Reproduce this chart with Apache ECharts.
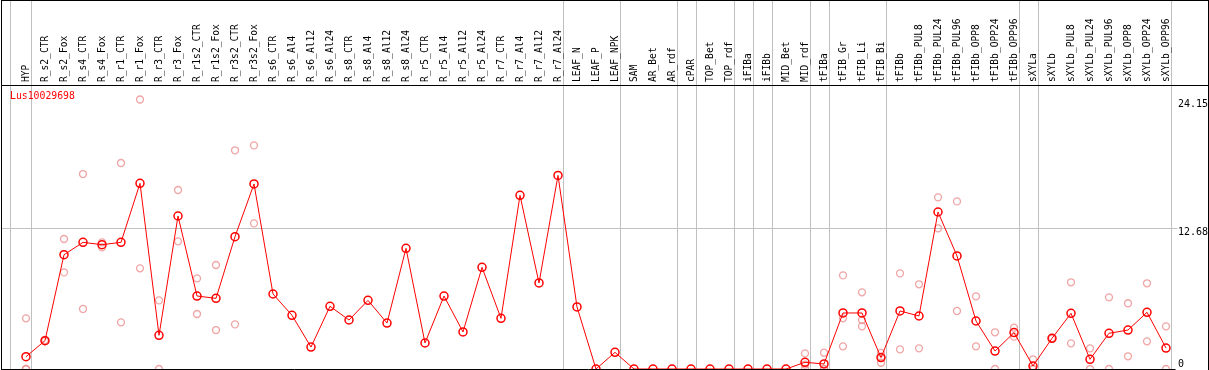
<!DOCTYPE html>
<html><head><meta charset="utf-8">
<script src="https://cdn.jsdelivr.net/npm/echarts@6/dist/echarts.min.js"></script>
<style>html,body{margin:0;padding:0;background:#fff}#c{width:1209px;height:370px}</style>
</head><body><div id="c"></div>
<script>
const chartTitle = 'Lus10029698';
const categories = ['HYP','R_s2_CTR','R_s2_Fox','R_s4_CTR','R_s4_Fox','R_r1_CTR','R_r1_Fox','R_r3_CTR','R_r3_Fox','R_r1s2_CTR','R_r1s2_Fox','R_r3s2_CTR','R_r3s2_Fox','R_s6_CTR','R_s6_Al4','R_s6_Al12','R_s6_Al24','R_s8_CTR','R_s8_Al4','R_s8_Al12','R_s8_Al24','R_r5_CTR','R_r5_Al4','R_r5_Al12','R_r5_Al24','R_r7_CTR','R_r7_Al4','R_r7_Al12','R_r7_Al24','LEAF_N','LEAF_P','LEAF_NPK','SAM','AR_Bet','AR_rdf','cPAR','TOP_Bet','TOP_rdf','iFIBa','iFIBb','MID_Bet','MID_rdf','tFIBa','tFIB_Gr','tFIB_Li','tFIB_Bi','tFIBb','tFIBb_PUL8','tFIBb_PUL24','tFIBb_PUL96','tFIBb_OPP8','tFIBb_OPP24','tFIBb_OPP96','sXYLa','sXYLb','sXYLb_PUL8','sXYLb_PUL24','sXYLb_PUL96','sXYLb_OPP8','sXYLb_OPP24','sXYLb_OPP96'];
const meanValues = [1.10,2.54,10.24,11.35,11.14,11.35,16.64,3.02,13.71,6.54,6.33,11.86,16.58,6.72,4.81,1.97,5.62,4.39,6.15,4.12,10.81,2.33,6.54,3.32,9.11,4.54,15.56,7.71,17.35,5.56,0,1.49,0,0,0,0,0,0,0,0,0,0.60,0.45,5.02,5.02,1.02,5.20,4.75,14.07,10.13,4.30,1.61,3.26,0.27,2.75,4.99,0.87,3.20,3.49,5.08,1.88];
const rep1 = [4.54,2.60,11.65,17.47,11.35,18.46,24.15,6.15,16.04,8.12,9.32,19.60,20.04,
  null,null,null,null,null,null,null,null,null,null,null,null,null,null,null,null,null,null,null,null,null,null,null,null,null,null,null,null,
  1.40,1.46,8.39,6.87,1.45,8.57,7.59,15.38,15.02,6.51,3.29,3.70,0.87,2.75,7.77,1.85,6.42,5.89,7.68,3.82];
const rep2 = [0,2.50,8.66,5.38,10.90,4.18,9.02,0,11.44,4.93,3.49,4.00,13.05,
  null,null,null,null,null,null,null,null,null,null,null,null,null,null,null,null,null,null,null,null,null,null,null,null,null,null,null,null,
  0.40,0,4.54,4.39,1.05,1.76,1.85,12.60,5.20,2.03,0,2.90,0,2.75,2.30,0,0,1.14,2.48,0];
const rep3 = [0,null,null,null,null,null,null,null,null,null,null,null,null,
  null,null,null,null,null,null,null,null,null,null,null,null,null,null,null,null,null,null,null,null,null,null,null,null,null,null,null,null,
  0,0,2.03,3.82,0.56,null,null,null,null,null,null,null,0,null,null,null,null,null,null,null];
const yTickValues = [0, 12.68, 24.15];
const yTickLabels = ['0', '12.68', '24.15'];
const separatorAfter = ['HYP','R_r7_Al24','LEAF_NPK','AR_rdf','cPAR','TOP_rdf','iFIBa','iFIBb','MID_rdf','tFIBa','tFIB_Bi','tFIBb_OPP96','sXYLa','sXYLb_OPP96'];

const MONO = '"DejaVu Sans Mono", "Liberation Mono", monospace';
const chart = echarts.init(document.getElementById('c'), null, {renderer: 'canvas'});
function repSeries(d) {
  return {type: 'scatter', data: d, symbol: 'circle', symbolSize: 7, z: 2,
    itemStyle: {color: 'rgba(0,0,0,0)', borderColor: '#ec9090', borderWidth: 1.3}, silent: true};
}
chart.setOption({
  animation: false,
  grid: {left: 16.5, top: 85, width: 1159, height: 284},
  xAxis: {type: 'category', data: categories, position: 'top', boundaryGap: true,
    axisLine: {show: false}, axisTick: {show: false}, splitLine: {show: false},
    axisLabel: {rotate: 90, margin: 3, interval: 0, fontFamily: MONO, fontSize: 9.6, color: '#000'}},
  yAxis: {type: 'value', min: 0, max: 25.45, show: false, splitLine: {show: false}},
  series: [repSeries(rep1), repSeries(rep2), repSeries(rep3),
    {type: 'line', data: meanValues, symbol: 'circle', symbolSize: 8, z: 3,
      lineStyle: {color: '#ff0000', width: 1},
      itemStyle: {color: 'rgba(0,0,0,0)', borderColor: '#ff0000', borderWidth: 1.5}}]
});

const cx = c => chart.convertToPixel({xAxisIndex: 0}, c);
const cy = v => chart.convertToPixel({yAxisIndex: 0}, v);
const step = cx(categories[1]) - cx(categories[0]);
const plotRight = cx(categories[categories.length - 1]) + step / 2;
const grey = {stroke: '#c0c0c0', lineWidth: 1};
const black = {stroke: '#000', lineWidth: 1};
const g = [];
function ln(x1, y1, x2, y2, style, z) { g.push({type: 'line', shape: {x1, y1, x2, y2}, style, z, silent: true}); }
// separators
const sepX = [cx(categories[0]) - step * 0.82].concat(separatorAfter.map(c => cx(c) + step * 0.24));
sepX.forEach(x => { const px = Math.round(x) + 0.5; ln(px, 0, px, 369.5, grey, 0); });
// horizontal mid grid
const ym = Math.round(cy(yTickValues[1])) + 0.5;
ln(1, ym, plotRight + 2, ym, grey, 0);
// borders
ln(1.5, 0, 1.5, 370, black, 10);
ln(1, 0.5, 1209, 0.5, black, 10);
ln(1208.5, 0, 1208.5, 370, black, 10);
ln(1, 85.5, 1209, 85.5, black, 10);
ln(1, 369.5, plotRight, 369.5, black, 10);
// y labels
yTickValues.forEach((v, i) => {
  const y = cy(v);
  g.push({type: 'text', x: plotRight + 2.5, y: i === 0 ? 369 : y, z: 10, silent: true,
    style: {text: yTickLabels[i], font: '10px ' + MONO, fill: '#000',
      verticalAlign: i === 0 ? 'bottom' : 'top', align: 'left'}});
});
// title
g.push({type: 'text', x: 10, y: 91, z: 10, silent: true,
  style: {text: chartTitle, font: '9.8px ' + MONO, fill: '#ff0000', verticalAlign: 'top', align: 'left'}});
chart.setOption({graphic: g});
</script></body></html>
